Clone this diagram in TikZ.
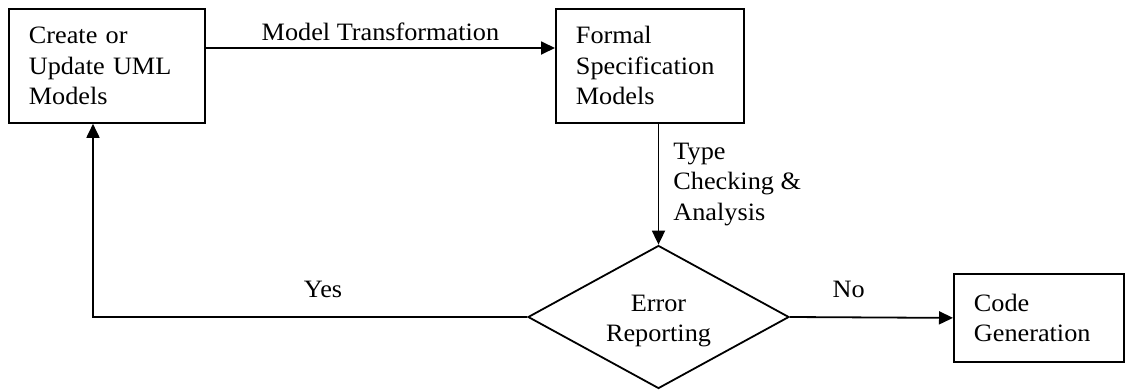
\documentclass[tikz,border=0pt]{standalone}
\usepackage{fontspec}
\setmainfont[FakeStretch=1.05]{Liberation Serif}
\usetikzlibrary{arrows.meta,shapes.geometric}
\begin{document}
\begin{tikzpicture}[x=1pt,y=-1pt,
  every node/.style={font=\fontsize{25}{30.5}\selectfont},
  box/.style={draw, line width=1.8pt, align=left, inner xsep=20pt, inner ysep=0pt, anchor=north west},
  dec/.style={draw, diamond, aspect=1.8, line width=1.8pt, inner sep=0pt, align=center, minimum width=261pt, minimum height=143pt},
  arr/.style={line width=1.8pt, -{Triangle[length=14pt,width=13pt]}},
  lbl/.style={inner sep=0pt, anchor=base}]
\useasboundingbox (0,0) rectangle (1127,389);
\node[box, text width=156pt, minimum height=114pt] (b1) at (8,8) {Create or\\Update UML\\Models};
\node[box, text width=148pt, minimum height=114pt] (b2) at (555,8) {Formal\\Specification\\Models};
\node[dec] (d) at (658.5,317) {\rule{0pt}{24pt}Error\\Reporting};
\node[box, text width=130pt, minimum height=88pt] (c) at (953,273) {Code\\Generation};
\coordinate (mt) at (380,48);
\coordinate (yc) at (93,317);
\draw[arr] (b1.east |- mt) -- node[lbl, yshift=8pt]{Model Transformation} (b2.west |- mt);
\draw[arr] (b2.south -| d.north) -- node[inner sep=0pt, anchor=west, align=left, xshift=14pt]{Type\\Checking \&\\Analysis} (d.north);
\draw[arr] (d.west) -- node[lbl, pos=0.47, yshift=20pt]{Yes} (yc) -- (b1.south -| yc);
\draw[arr] (d.east) -- node[lbl, pos=0.36, yshift=20pt]{No} (c.west);
\end{tikzpicture}
\end{document}
